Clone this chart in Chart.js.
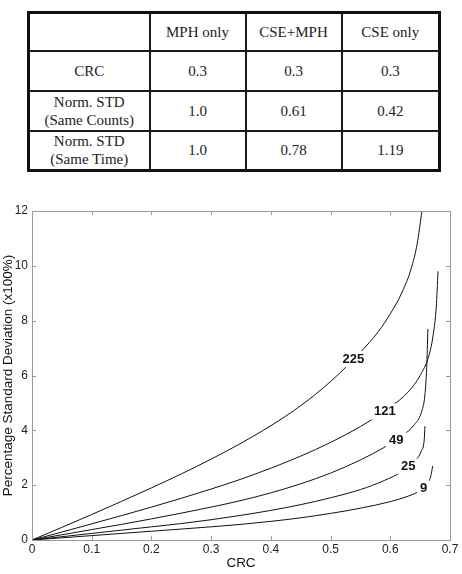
<!DOCTYPE html>
<html><head><meta charset="utf-8">
<script src="https://cdn.jsdelivr.net/npm/chart.js@4/dist/chart.umd.min.js"></script>
<style>
html,body{margin:0;padding:0;background:#fff;width:462px;height:574px;overflow:hidden;}
#tbl{position:absolute;left:27px;top:11px;border-collapse:collapse;border:3px solid #111;font-family:"Liberation Serif","Times New Roman",serif;font-size:15px;color:#222;table-layout:fixed;width:411px;}
#tbl td{border:2px solid #1a1a1a;text-align:center;vertical-align:middle;padding:0;line-height:18px;}
#wrap{position:absolute;left:0;top:195px;width:462px;height:379px;}
</style></head>
<body>
<table id="tbl"></table>
<div id="wrap"><canvas id="c" width="462" height="379"></canvas></div>
<script>
// ---- table data ----
const tableHeaders = ['', 'MPH only', 'CSE+MPH', 'CSE only'];
const rowLabels = [['CRC'], ['Norm. STD', '(Same Counts)'], ['Norm. STD', '(Same Time)']];
const rowValues = [['0.3', '0.3', '0.3'], ['1.0', '0.61', '0.42'], ['1.0', '0.78', '1.19']];

// ---- chart data (contour curves: CRC vs percentage SD) ----
const levels = ['225', '121', '49', '25', '9'];
const x225 = [0, 0.05, 0.1, 0.15, 0.2, 0.25, 0.3, 0.35, 0.4, 0.45, 0.5, 0.55, 0.58, 0.6, 0.62, 0.635, 0.645, 0.653];
const y225 = [0, 0.46, 0.93, 1.41, 1.9, 2.41, 2.95, 3.53, 4.17, 4.9, 5.78, 6.85, 7.6, 8.25, 9.05, 9.9, 10.8, 12.0];
const x121 = [0, 0.05, 0.1, 0.15, 0.2, 0.25, 0.3, 0.35, 0.4, 0.45, 0.5, 0.55, 0.6, 0.63, 0.65, 0.665, 0.672, 0.677, 0.68];
const y121 = [0, 0.29, 0.59, 0.89, 1.2, 1.52, 1.86, 2.22, 2.62, 3.06, 3.56, 4.14, 4.85, 5.4, 6.0, 6.75, 7.5, 8.5, 9.8];
const x49 = [0, 0.05, 0.1, 0.15, 0.2, 0.25, 0.3, 0.35, 0.4, 0.45, 0.5, 0.55, 0.59, 0.62, 0.64, 0.652, 0.658, 0.661, 0.663];
const y49 = [0, 0.19, 0.38, 0.57, 0.77, 0.98, 1.2, 1.44, 1.72, 2.05, 2.44, 2.92, 3.38, 3.8, 4.2, 4.65, 5.3, 6.3, 7.7];
const x25 = [0, 0.05, 0.1, 0.15, 0.2, 0.25, 0.3, 0.35, 0.4, 0.45, 0.5, 0.55, 0.59, 0.62, 0.64, 0.652, 0.657, 0.658];
const y25 = [0, 0.12, 0.24, 0.36, 0.48, 0.6, 0.74, 0.9, 1.08, 1.29, 1.54, 1.84, 2.17, 2.5, 2.85, 3.25, 3.7, 4.15];
const x9 = [0, 0.05, 0.1, 0.15, 0.2, 0.25, 0.3, 0.35, 0.4, 0.45, 0.5, 0.55, 0.6, 0.63, 0.65, 0.662, 0.668, 0.671];
const y9 = [0, 0.08, 0.16, 0.24, 0.32, 0.4, 0.48, 0.57, 0.68, 0.81, 0.97, 1.16, 1.4, 1.6, 1.8, 2.02, 2.35, 2.7];
const labelX = [0.538, 0.591, 0.610, 0.630, 0.656];
const labelY = [6.6, 4.68, 3.65, 2.67, 1.87];
const xTickValues = [0, 0.1, 0.2, 0.3, 0.4, 0.5, 0.6, 0.7];
const xTickLabels = ['0', '0.1', '0.2', '0.3', '0.4', '0.5', '0.6', '0.7'];
const yTickValues = [0, 2, 4, 6, 8, 10, 12];
const yTickLabels = ['0', '2', '4', '6', '8', '10', '12'];

// ---- build table ----
(function () {
  const t = document.getElementById('tbl');
  const cg = document.createElement('colgroup');
  [121, 96, 96, 98].forEach(w => { const c = document.createElement('col'); c.style.width = w + 'px'; cg.appendChild(c); });
  t.appendChild(cg);
  const hr = document.createElement('tr'); hr.style.height = '38px';
  tableHeaders.forEach(h => { const td = document.createElement('td'); td.textContent = h; hr.appendChild(td); });
  t.appendChild(hr);
  rowLabels.forEach((lab, i) => {
    const tr = document.createElement('tr'); tr.style.height = '40px';
    const td0 = document.createElement('td'); td0.innerHTML = lab.join('<br>'); tr.appendChild(td0);
    rowValues[i].forEach(v => { const td = document.createElement('td'); td.textContent = v; tr.appendChild(td); });
    t.appendChild(tr);
  });
})();

// ---- chart ----
const xs = [x225, x121, x49, x25, x9];
const ys = [y225, y121, y49, y25, y9];
const FONT = "'Liberation Sans', Arial, sans-serif";

const framePlugin = {
  id: 'frameAndLabels',
  afterDatasetsDraw(chart) {
    const ctx = chart.ctx, xS = chart.scales.x, yS = chart.scales.y, a = chart.chartArea;
    ctx.save();
    // contour labels
    ctx.font = 'bold 13px ' + FONT;
    ctx.textAlign = 'center'; ctx.textBaseline = 'middle';
    levels.forEach((lv, i) => {
      const px = xS.getPixelForValue(labelX[i]), py = yS.getPixelForValue(labelY[i]);
      const w = ctx.measureText(lv).width;
      ctx.fillStyle = '#fff';
      ctx.fillRect(px - w / 2 - 3, py - 8, w + 6, 16);
      ctx.fillStyle = '#111';
      ctx.fillText(lv, px, py);
    });
    // frame
    ctx.strokeStyle = '#999'; ctx.lineWidth = 1;
    ctx.strokeRect(Math.round(a.left) + 0.5, Math.round(a.top) + 0.5, Math.round(a.right - a.left), Math.round(a.bottom - a.top));
    ctx.beginPath();
    xTickValues.forEach(v => {
      if (v === xS.min || v === xS.max) return;
      const p = Math.round(xS.getPixelForValue(v)) + 0.5;
      ctx.moveTo(p, a.bottom); ctx.lineTo(p, a.bottom - 4);
      ctx.moveTo(p, a.top); ctx.lineTo(p, a.top + 4);
    });
    yTickValues.forEach(v => {
      if (v === yS.min || v === yS.max) return;
      const p = Math.round(yS.getPixelForValue(v)) + 0.5;
      ctx.moveTo(a.left, p); ctx.lineTo(a.left + 4, p);
      ctx.moveTo(a.right, p); ctx.lineTo(a.right - 4, p);
    });
    ctx.stroke();
    ctx.restore();
  }
};

new Chart(document.getElementById('c'), {
  type: 'scatter',
  data: {
    datasets: levels.map((lv, i) => ({
      label: lv,
      data: xs[i].map((x, j) => ({ x: x, y: ys[i][j] })),
      showLine: true,
      borderColor: '#111',
      borderWidth: 1,
      pointRadius: 0,
      cubicInterpolationMode: 'monotone',
      fill: false
    }))
  },
  options: {
    responsive: false,
    animation: false,
    devicePixelRatio: 1,
    layout: { padding: { top: 16, right: 12, left: 0, bottom: 0 } },
    plugins: { legend: { display: false }, tooltip: { enabled: false } },
    scales: {
      x: {
        type: 'linear', min: 0, max: 0.7,
        afterBuildTicks: s => { s.ticks = xTickValues.map(v => ({ value: v })); },
        afterFit: s => { s.height = 34; },
        ticks: { callback: (v, i) => xTickLabels[i], color: '#222', font: { family: FONT, size: 12 }, padding: 2, maxRotation: 0, autoSkip: false },
        grid: { display: false, drawTicks: false },
        border: { display: false },
        title: { display: true, text: 'CRC', color: '#111', font: { family: FONT, size: 13.5 }, padding: { top: 0, bottom: 3 } }
      },
      y: {
        type: 'linear', min: 0, max: 12,
        afterBuildTicks: s => { s.ticks = yTickValues.map(v => ({ value: v })); },
        afterFit: s => { s.width = 32; },
        ticks: { callback: (v, i) => yTickLabels[i], color: '#222', font: { family: FONT, size: 12 }, padding: 4, autoSkip: false },
        grid: { display: false, drawTicks: false },
        border: { display: false },
        title: { display: true, text: 'Percentage Standard Deviation (x100%)', color: '#111', font: { family: FONT, size: 13.5 }, padding: { top: 0, bottom: 0 } }
      }
    }
  },
  plugins: [framePlugin]
});
</script>
</body></html>
